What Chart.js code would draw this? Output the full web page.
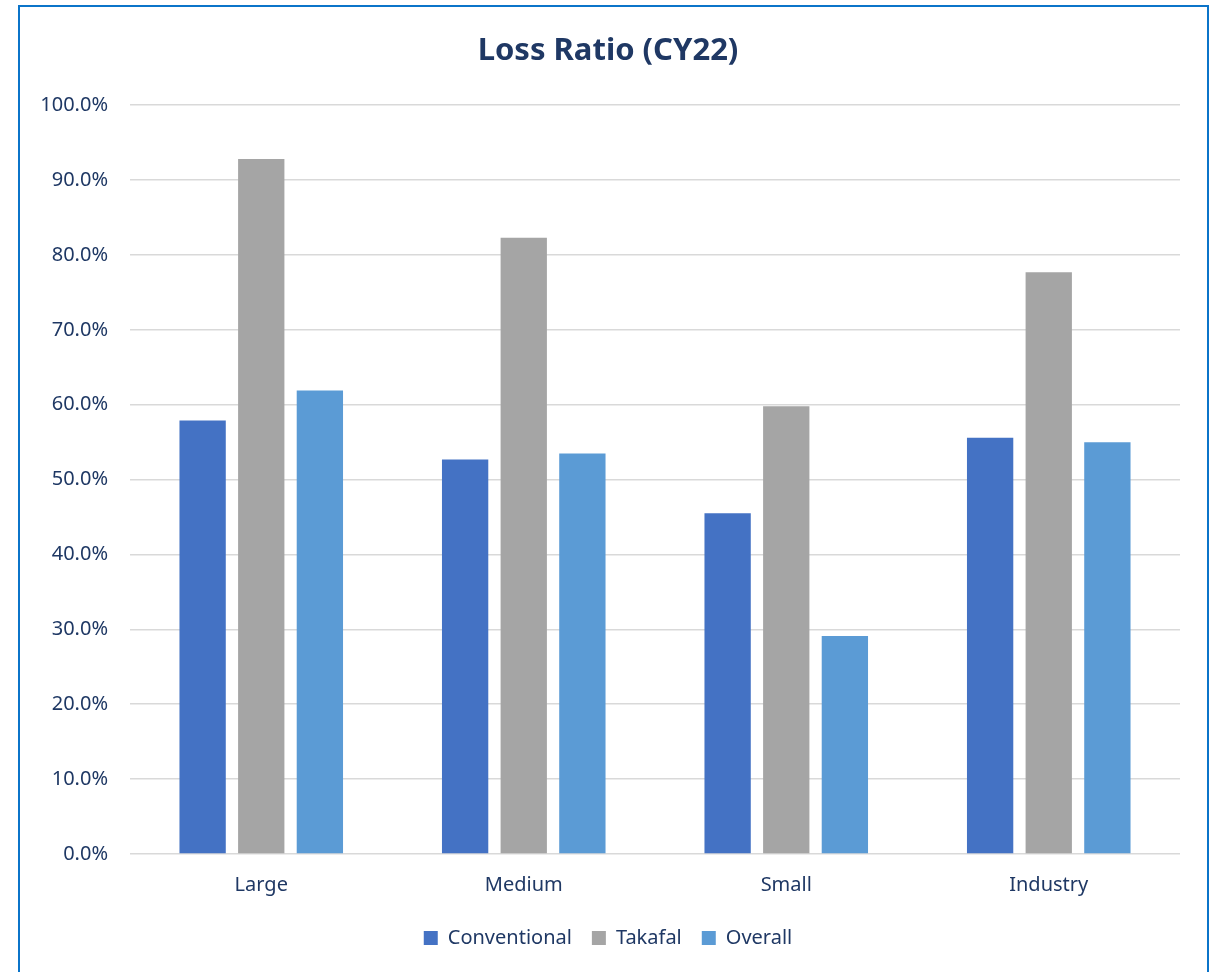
<!DOCTYPE html>
<html>
<head>
<meta charset="utf-8">
<script src="https://cdn.jsdelivr.net/npm/chart.js@4"></script>
<style>
  html, body { margin: 0; padding: 0; background: #fff; }
  #wrap { position: relative; width: 1217px; height: 972px; overflow: hidden; }
  #frame {
    position: absolute; left: 18px; top: 5px; width: 1187px; height: 1000px;
    border: 2px solid #0B74C9; pointer-events: none;
  }
  canvas { position: absolute; left: 0; top: 0; }
</style>
</head>
<body>
<div id="wrap">
  <canvas id="lossChart" width="1217" height="972"></canvas>
  <div id="frame"></div>
</div>
<script>
const categories = ['Large', 'Medium', 'Small', 'Industry'];
const conventional = [57.9, 52.7, 45.5, 55.6];
const takafal = [92.8, 82.3, 59.8, 77.7];
const overall = [61.9, 53.5, 29.1, 55.0];
const yTicks = [0, 10, 20, 30, 40, 50, 60, 70, 80, 90, 100];

const navy = '#1F3864';
const fontFamily = '"Noto Sans", Lato, sans-serif';

const ctx = document.getElementById('lossChart').getContext('2d');
new Chart(ctx, {
    type: 'bar',
    data: {
        labels: categories,
        datasets: [
            { label: 'Conventional', data: conventional, backgroundColor: '#4472C4' },
            { label: 'Takafal', data: takafal, backgroundColor: '#A5A5A5' },
            { label: 'Overall', data: overall, backgroundColor: '#5B9BD5' }
        ]
    },
    options: {
        responsive: false,
        animation: false,
        layout: { padding: { left: 36, right: 37, top: 0, bottom: 14 } },
        datasets: {
            bar: { categoryPercentage: 0.67, barPercentage: 0.79 }
        },
        plugins: {
            title: {
                display: true,
                text: 'Loss Ratio (CY22)',
                color: navy,
                font: { family: fontFamily, size: 31, weight: 'bold' },
                padding: { top: 33, bottom: 35 }
            },
            legend: {
                position: 'bottom',
                labels: {
                    color: navy,
                    font: { family: fontFamily, size: 20 },
                    boxWidth: 14,
                    boxHeight: 14,
                    padding: 20
                }
            },
            tooltip: { enabled: false }
        },
        scales: {
            x: {
                grid: { display: false },
                border: { display: false },
                ticks: {
                    color: navy,
                    font: { family: fontFamily, size: 20 },
                    padding: 11
                }
            },
            y: {
                min: 0,
                max: 100,
                afterFit: function (scale) { scale.width = 94; },
                afterBuildTicks: function (scale) {
                    scale.ticks = yTicks.map(v => ({ value: v }));
                },
                grid: { color: '#D9D9D9', lineWidth: 1.5, drawTicks: false },
                border: { display: false },
                ticks: {
                    color: navy,
                    font: { family: fontFamily, size: 20 },
                    padding: 22,
                    callback: function (value) { return value.toFixed(1) + '%'; }
                }
            }
        }
    }
});
</script>
</body>
</html>
